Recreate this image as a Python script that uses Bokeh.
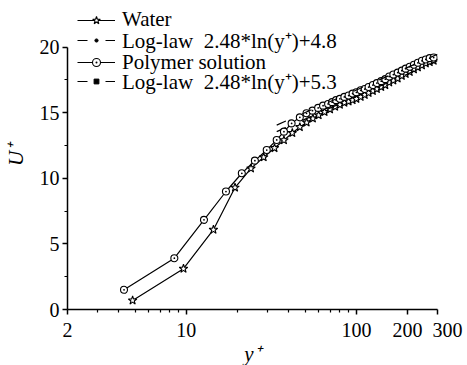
import math
from bokeh.plotting import figure
from bokeh.models import Range1d, FixedTicker, Legend, LegendItem
from bokeh.embed import file_html
from bokeh.resources import INLINE

# ---- data ----
water_x = [4.83, 9.62, 14.43, 19.33, 24.0, 28.5, 33.0, 37.5, 42.0, 46.5, 51.0, 55.5,
           60.0, 65.0, 70.0, 75.0, 80.0, 85.0, 90.0, 95.0, 100.0, 106.0, 112.0, 118.0,
           125.0, 132.0, 140.0, 148.0, 156.0, 165.0, 175.0, 185.0, 195.0, 206.0, 218.0,
           230.0, 243.0, 256.0, 270.0, 285.0]
water_y = [0.69, 3.11, 6.08, 9.29, 10.75, 11.6, 12.3, 12.9, 13.45, 13.9, 14.25, 14.55,
           14.8, 15.05, 15.25, 15.45, 15.6, 15.75, 15.85, 15.95, 16.05, 16.2, 16.35, 16.5,
           16.65, 16.8, 16.95, 17.1, 17.3, 17.45, 17.6, 17.8, 17.95, 18.1, 18.3,
           18.45, 18.6, 18.75, 18.85, 18.95]

poly_x = [4.3, 8.5, 12.7, 17.1, 21.2, 25.3, 29.7, 34.0, 37.5, 41.6, 46.5, 50.9, 55.2,
          59.6, 63.7, 68.2, 72.0, 76.0, 80.0, 85.0, 90.0, 95.0, 100.0, 106.0, 112.0,
          118.0, 125.0, 132.0, 140.0, 148.0, 156.0, 165.0, 175.0, 185.0, 195.0, 206.0,
          218.0, 230.0, 243.0, 256.0, 270.0, 285.0]
poly_y = [1.50, 3.91, 6.83, 8.99, 10.38, 11.34, 12.15, 12.92, 13.55, 14.18, 14.64, 14.95, 15.15,
          15.36, 15.53, 15.66, 15.8, 15.95, 16.05, 16.2, 16.3, 16.45, 16.55, 16.7, 16.8,
          16.95, 17.1, 17.25, 17.4, 17.55, 17.75, 17.9, 18.05, 18.2, 18.35, 18.5,
          18.65, 18.8, 18.95, 19.05, 19.15, 19.2]

loglaw_x = [34.0, 300.0]
loglaw48_y = [13.55, 18.95]
loglaw53_y = [14.05, 19.45]

x_ticks = [2, 10, 100, 200, 300]
x_minor = [3, 4, 5, 6, 7, 8, 9, 20, 30, 40, 50, 60, 70, 80, 90]
x_labels = {2: "2", 10: "10", 100: "100", 200: "200", 300: "\u2003300"}
y_ticks = [0, 5, 10, 15, 20]
y_minor = [2.5, 7.5, 12.5, 17.5]

names = ["Water", "Log-law  2.48*ln(y\u207a)+4.8", "Polymer solution",
         "Log-law  2.48*ln(y\u207a)+5.3"]

FONT = "'Liberation Serif'"

FRAME_H = 309
p = figure(x_axis_type="log", frame_width=370, frame_height=FRAME_H,
           min_border_left=67, min_border_right=30, min_border_top=0, min_border_bottom=56,
           x_range=Range1d(2, 300), y_range=Range1d(0, FRAME_H / 13.125),
           output_backend="svg", toolbar_location=None)
p.grid.visible = False
p.outline_line_color = None

p.xaxis.ticker = FixedTicker(ticks=x_ticks, minor_ticks=x_minor)
p.yaxis.ticker = FixedTicker(ticks=y_ticks, minor_ticks=y_minor)
p.xaxis.major_label_overrides = x_labels
p.yaxis.major_label_overrides = {t: str(t) for t in y_ticks}
p.yaxis.bounds = (0, 20)
for ax in (p.xaxis, p.yaxis):
    ax.axis_line_width = 1.5
    ax.axis_line_color = "black"
    ax.major_tick_line_width = 1.5
    ax.minor_tick_line_width = 1.2
    ax.major_tick_line_color = "black"
    ax.minor_tick_line_color = "black"
    ax.major_tick_in = 0
    ax.major_tick_out = 5
    ax.minor_tick_in = 0
    ax.minor_tick_out = 3
    ax.major_label_text_font = FONT
    ax.major_label_text_font_size = "20px"
    ax.major_label_text_color = "black"
    ax.axis_label_text_font = FONT
    ax.axis_label_text_font_style = "italic"
    ax.axis_label_text_font_size = "21px"
    ax.axis_label_text_color = "black"
p.xaxis.major_label_standoff = 4
p.yaxis.major_label_standoff = 3
p.xaxis.axis_label = "y\u207a"
p.yaxis.axis_label = "U\u207a"
p.xaxis.axis_label_standoff = -2
p.yaxis.axis_label_standoff = 9

nan = float("nan")
# data series
w_line = p.line(water_x, water_y, line_color="black", line_width=1.2)
w_pts = p.scatter(water_x, water_y, marker="star", size=9, fill_color="white",
                  line_color="black", line_width=1.1)
l1_line = p.line(loglaw_x, loglaw48_y, line_color="black", line_width=1.2, line_dash="10 18")
l1_mk = p.scatter(x=[nan], y=[nan], marker="circle", fill_color="black", line_color="black")
p_line = p.line(poly_x, poly_y, line_color="black", line_width=1.2)
p_pts = p.scatter(poly_x, poly_y, marker="circle_dot", size=7, fill_color="white",
                  line_color="black", line_width=1.1)
l2_line = p.line(loglaw_x, loglaw53_y, line_color="black", line_width=1.2, line_dash="10 18")
l2_mk = p.scatter(x=[nan], y=[nan], marker="square", fill_color="black", line_color="black")

item_renderers = [[w_line, w_pts], [l1_line, l1_mk], [p_line, p_pts], [l2_line, l2_mk]]
row_centers = [19.5, 41.0, 62.0, 82.0]
glyph_h = [20, 8, 20, 12]
for name, rends, c, gh in zip(names, item_renderers, row_centers, glyph_h):
    lg = Legend(items=[LegendItem(label=name, renderers=rends)],
                location=(10, FRAME_H - (c + 12.5)), padding=0, margin=0, spacing=0,
                glyph_width=38, glyph_height=gh, label_height=20, label_standoff=7,
                label_text_font=FONT, label_text_font_size="21px", label_text_color="black",
                border_line_color=None, background_fill_alpha=0)
    p.add_layout(lg, "center")

open("out.html", "w").write(file_html(p, INLINE))
